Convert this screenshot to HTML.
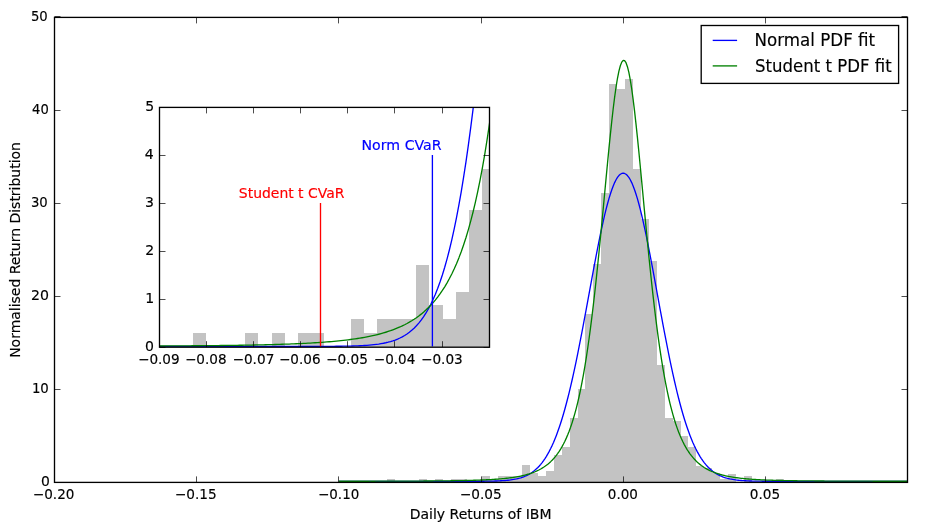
<!DOCTYPE html>
<html><head><meta charset="utf-8"><title>IBM returns</title>
<style>html,body{margin:0;padding:0;background:#fff}svg{display:block}text{white-space:pre}</style>
</head><body>
<svg width="932" height="532" viewBox="0 0 932 532" font-family="'DejaVu Sans', 'Liberation Sans', sans-serif">
<rect width="932" height="532" fill="#fff"/>
<defs>
<clipPath id="cm"><rect x="54.5" y="17.4" width="853.0" height="465.0"/></clipPath>
<clipPath id="ci"><rect x="159.5" y="107.4" width="330.0" height="239.79999999999998"/></clipPath>
</defs>
<g clip-path="url(#cm)">
<path d="M387.00 482.40V479.00H395.00V482.40ZM419.00 482.40V479.00H427.00V482.40ZM435.00 482.40V479.00H443.00V482.40ZM451.00 482.40V479.00H459.00V482.40ZM459.00 482.40V479.00H467.00V482.40ZM482.00 482.40V476.00H490.00V482.40ZM490.00 482.40V479.00H498.00V482.40ZM498.00 482.40V476.00H506.00V482.40ZM506.00 482.40V476.00H514.00V482.40ZM514.00 482.40V476.00H522.00V482.40ZM522.00 482.40V465.00H530.00V482.40ZM530.00 482.40V473.00H538.00V482.40ZM538.00 482.40V476.00H546.00V482.40ZM546.00 482.40V471.00H554.00V482.40ZM554.00 482.40V455.00H562.00V482.40ZM562.00 482.40V447.00H570.00V482.40ZM570.00 482.40V418.00H578.00V482.40ZM578.00 482.40V389.00H585.00V482.40ZM585.00 482.40V314.00H593.00V482.40ZM593.00 482.40V264.00H601.00V482.40ZM601.00 482.40V193.00H609.00V482.40ZM609.00 482.40V84.00H617.00V482.40ZM617.00 482.40V89.00H625.00V482.40ZM625.00 482.40V79.00H633.00V482.40ZM633.00 482.40V169.00H641.00V482.40ZM641.00 482.40V219.00H649.00V482.40ZM649.00 482.40V261.00H657.00V482.40ZM657.00 482.40V365.00H665.00V482.40ZM665.00 482.40V418.00H673.00V482.40ZM673.00 482.40V421.00H681.00V482.40ZM681.00 482.40V436.00H688.00V482.40ZM688.00 482.40V447.00H696.00V482.40ZM696.00 482.40V466.00H704.00V482.40ZM704.00 482.40V468.00H712.00V482.40ZM712.00 482.40V473.00H720.00V482.40ZM720.00 482.40V479.00H728.00V482.40ZM728.00 482.40V474.00H736.00V482.40ZM744.00 482.40V476.00H752.00V482.40ZM776.00 482.40V479.00H784.00V482.40Z" fill="#c3c3c3"/>
<path d="M338.84 481.30L340.26 481.30L341.68 481.30L343.10 481.30L344.52 481.30L345.95 481.30L347.37 481.30L348.79 481.30L350.21 481.30L351.63 481.30L353.05 481.30L354.48 481.30L355.90 481.30L357.32 481.30L358.74 481.30L360.16 481.30L361.58 481.30L363.01 481.30L364.43 481.30L365.85 481.30L367.27 481.30L368.69 481.30L370.11 481.30L371.54 481.30L372.96 481.30L374.38 481.30L375.80 481.30L377.22 481.30L378.64 481.30L380.07 481.30L381.49 481.30L382.91 481.30L384.33 481.30L385.75 481.30L387.17 481.30L388.60 481.30L390.02 481.30L391.44 481.30L392.86 481.30L394.28 481.30L395.70 481.30L397.13 481.30L398.55 481.30L399.97 481.30L401.39 481.30L402.81 481.30L404.23 481.30L405.66 481.30L407.08 481.30L408.50 481.30L409.92 481.30L411.34 481.30L412.76 481.30L414.19 481.30L415.61 481.30L417.03 481.30L418.45 481.30L419.87 481.30L421.29 481.30L422.72 481.30L424.14 481.30L425.56 481.30L426.98 481.30L428.40 481.30L429.82 481.30L431.25 481.30L432.67 481.30L434.09 481.30L435.51 481.30L436.93 481.30L438.35 481.30L439.78 481.30L441.20 481.30L442.62 481.30L444.04 481.30L445.46 481.30L446.88 481.30L448.31 481.30L449.73 481.30L451.15 481.30L452.57 481.30L453.99 481.30L455.41 481.30L456.84 481.30L458.26 481.30L459.68 481.30L461.10 481.30L462.52 481.29L463.94 481.29L465.37 481.29L466.79 481.29L468.21 481.29L469.63 481.29L471.05 481.28L472.47 481.28L473.90 481.28L475.32 481.27L476.74 481.27L478.16 481.26L479.58 481.25L481.00 481.24L482.43 481.23L483.85 481.22L485.27 481.21L486.69 481.19L488.11 481.17L489.53 481.15L490.96 481.12L492.38 481.09L493.80 481.06L495.22 481.01L496.64 480.97L498.06 480.91L499.49 480.85L500.91 480.78L502.33 480.69L503.75 480.60L505.17 480.49L506.59 480.36L508.02 480.22L509.44 480.06L510.86 479.88L512.28 479.67L513.70 479.44L515.12 479.18L516.55 478.89L517.97 478.55L519.39 478.18L520.81 477.77L522.23 477.31L523.65 476.79L525.08 476.21L526.50 475.58L527.92 474.87L529.34 474.09L530.76 473.23L532.18 472.28L533.61 471.23L535.03 470.09L536.45 468.84L537.87 467.47L539.29 465.97L540.71 464.34L542.14 462.58L543.56 460.66L544.98 458.59L546.40 456.35L547.82 453.94L549.24 451.35L550.67 448.57L552.09 445.59L553.51 442.41L554.93 439.02L556.35 435.41L557.77 431.58L559.20 427.52L560.62 423.23L562.04 418.71L563.46 413.95L564.88 408.96L566.30 403.73L567.73 398.26L569.15 392.56L570.57 386.64L571.99 380.49L573.41 374.12L574.83 367.56L576.26 360.79L577.68 353.85L579.10 346.74L580.52 339.47L581.94 332.07L583.36 324.56L584.79 316.95L586.21 309.26L587.63 301.53L589.05 293.77L590.47 286.02L591.89 278.30L593.32 270.63L594.74 263.05L596.16 255.59L597.58 248.28L599.00 241.14L600.42 234.21L601.85 227.52L603.27 221.09L604.69 214.97L606.11 209.16L607.53 203.71L608.95 198.64L610.38 193.98L611.80 189.74L613.22 185.94L614.64 182.61L616.06 179.77L617.48 177.42L618.91 175.58L620.33 174.26L621.75 173.46L623.17 173.20L624.59 173.46L626.01 174.26L627.43 175.58L628.86 177.42L630.28 179.77L631.70 182.61L633.12 185.94L634.54 189.74L635.96 193.98L637.39 198.64L638.81 203.71L640.23 209.16L641.65 214.97L643.07 221.09L644.49 227.52L645.92 234.21L647.34 241.14L648.76 248.28L650.18 255.59L651.60 263.05L653.02 270.63L654.45 278.30L655.87 286.02L657.29 293.77L658.71 301.53L660.13 309.26L661.55 316.95L662.98 324.56L664.40 332.07L665.82 339.47L667.24 346.74L668.66 353.85L670.08 360.79L671.51 367.56L672.93 374.12L674.35 380.49L675.77 386.64L677.19 392.56L678.61 398.26L680.04 403.73L681.46 408.96L682.88 413.95L684.30 418.71L685.72 423.23L687.14 427.52L688.57 431.58L689.99 435.41L691.41 439.02L692.83 442.41L694.25 445.59L695.67 448.57L697.10 451.35L698.52 453.94L699.94 456.35L701.36 458.59L702.78 460.66L704.20 462.58L705.63 464.34L707.05 465.97L708.47 467.47L709.89 468.84L711.31 470.09L712.73 471.23L714.16 472.28L715.58 473.23L717.00 474.09L718.42 474.87L719.84 475.58L721.26 476.21L722.69 476.79L724.11 477.31L725.53 477.77L726.95 478.18L728.37 478.55L729.79 478.89L731.22 479.18L732.64 479.44L734.06 479.67L735.48 479.88L736.90 480.06L738.32 480.22L739.75 480.36L741.17 480.49L742.59 480.60L744.01 480.69L745.43 480.78L746.85 480.85L748.28 480.91L749.70 480.97L751.12 481.01L752.54 481.06L753.96 481.09L755.38 481.12L756.81 481.15L758.23 481.17L759.65 481.19L761.07 481.21L762.49 481.22L763.91 481.23L765.34 481.24L766.76 481.25L768.18 481.26L769.60 481.27L771.02 481.27L772.44 481.28L773.87 481.28L775.29 481.28L776.71 481.29L778.13 481.29L779.55 481.29L780.97 481.29L782.40 481.29L783.82 481.29L785.24 481.30L786.66 481.30L788.08 481.30L789.50 481.30L790.93 481.30L792.35 481.30L793.77 481.30L795.19 481.30L796.61 481.30L798.03 481.30L799.46 481.30L800.88 481.30L802.30 481.30L803.72 481.30L805.14 481.30L806.56 481.30L807.99 481.30L809.41 481.30L810.83 481.30L812.25 481.30L813.67 481.30L815.09 481.30L816.52 481.30L817.94 481.30L819.36 481.30L820.78 481.30L822.20 481.30L823.62 481.30L825.05 481.30L826.47 481.30L827.89 481.30L829.31 481.30L830.73 481.30L832.15 481.30L833.58 481.30L835.00 481.30L836.42 481.30L837.84 481.30L839.26 481.30L840.68 481.30L842.11 481.30L843.53 481.30L844.95 481.30L846.37 481.30L847.79 481.30L849.21 481.30L850.64 481.30L852.06 481.30L853.48 481.30L854.90 481.30L856.32 481.30L857.74 481.30L859.17 481.30L860.59 481.30L862.01 481.30L863.43 481.30L864.85 481.30L866.27 481.30L867.70 481.30L869.12 481.30L870.54 481.30L871.96 481.30L873.38 481.30L874.80 481.30L876.23 481.30L877.65 481.30L879.07 481.30L880.49 481.30L881.91 481.30L883.33 481.30L884.76 481.30L886.18 481.30L887.60 481.30L889.02 481.30L890.44 481.30L891.86 481.30L893.29 481.30L894.71 481.30L896.13 481.30L897.55 481.30L898.97 481.30L900.39 481.30L901.82 481.30L903.24 481.30L904.66 481.30L906.08 481.30L907.50 481.30" fill="none" stroke="#0000ff" stroke-width="1.33" stroke-linejoin="round"/>
<path d="M338.84 481.25L340.26 481.25L341.68 481.25L343.10 481.25L344.52 481.25L345.95 481.25L347.37 481.24L348.79 481.24L350.21 481.24L351.63 481.24L353.05 481.24L354.48 481.24L355.90 481.23L357.32 481.23L358.74 481.23L360.16 481.23L361.58 481.23L363.01 481.23L364.43 481.22L365.85 481.22L367.27 481.22L368.69 481.22L370.11 481.21L371.54 481.21L372.96 481.21L374.38 481.21L375.80 481.20L377.22 481.20L378.64 481.20L380.07 481.20L381.49 481.19L382.91 481.19L384.33 481.19L385.75 481.18L387.17 481.18L388.60 481.18L390.02 481.17L391.44 481.17L392.86 481.17L394.28 481.16L395.70 481.16L397.13 481.15L398.55 481.15L399.97 481.14L401.39 481.14L402.81 481.13L404.23 481.13L405.66 481.12L407.08 481.12L408.50 481.11L409.92 481.11L411.34 481.10L412.76 481.09L414.19 481.09L415.61 481.08L417.03 481.07L418.45 481.06L419.87 481.06L421.29 481.05L422.72 481.04L424.14 481.03L425.56 481.02L426.98 481.01L428.40 481.00L429.82 480.99L431.25 480.98L432.67 480.97L434.09 480.96L435.51 480.95L436.93 480.93L438.35 480.92L439.78 480.90L441.20 480.89L442.62 480.87L444.04 480.86L445.46 480.84L446.88 480.82L448.31 480.81L449.73 480.79L451.15 480.77L452.57 480.75L453.99 480.72L455.41 480.70L456.84 480.68L458.26 480.65L459.68 480.63L461.10 480.60L462.52 480.57L463.94 480.54L465.37 480.51L466.79 480.47L468.21 480.44L469.63 480.40L471.05 480.36L472.47 480.32L473.90 480.28L475.32 480.23L476.74 480.19L478.16 480.14L479.58 480.08L481.00 480.03L482.43 479.97L483.85 479.91L485.27 479.84L486.69 479.77L488.11 479.70L489.53 479.62L490.96 479.54L492.38 479.46L493.80 479.36L495.22 479.27L496.64 479.17L498.06 479.06L499.49 478.94L500.91 478.82L502.33 478.69L503.75 478.56L505.17 478.41L506.59 478.26L508.02 478.09L509.44 477.92L510.86 477.73L512.28 477.54L513.70 477.33L515.12 477.10L516.55 476.86L517.97 476.61L519.39 476.34L520.81 476.05L522.23 475.74L523.65 475.41L525.08 475.05L526.50 474.67L527.92 474.26L529.34 473.83L530.76 473.36L532.18 472.86L533.61 472.33L535.03 471.75L536.45 471.13L537.87 470.47L539.29 469.75L540.71 468.98L542.14 468.15L543.56 467.26L544.98 466.30L546.40 465.27L547.82 464.15L549.24 462.95L550.67 461.64L552.09 460.24L553.51 458.72L554.93 457.09L556.35 455.31L557.77 453.40L559.20 451.33L560.62 449.09L562.04 446.66L563.46 444.04L564.88 441.20L566.30 438.13L567.73 434.80L569.15 431.21L570.57 427.32L571.99 423.11L573.41 418.57L574.83 413.66L576.26 408.36L577.68 402.64L579.10 396.48L580.52 389.85L581.94 382.72L583.36 375.07L584.79 366.87L586.21 358.11L587.63 348.75L589.05 338.78L590.47 328.21L591.89 317.01L593.32 305.20L594.74 292.79L596.16 279.81L597.58 266.29L599.00 252.28L600.42 237.86L601.85 223.10L603.27 208.11L604.69 193.00L606.11 177.91L607.53 162.99L608.95 148.41L610.38 134.35L611.80 120.98L613.22 108.50L614.64 97.11L616.06 86.97L617.48 78.26L618.91 71.14L620.33 65.73L621.75 62.13L623.17 60.41L624.59 60.60L626.01 62.70L627.43 66.67L628.86 72.43L630.28 79.88L631.70 88.89L633.12 99.29L634.54 110.92L635.96 123.59L637.39 137.11L638.81 151.29L640.23 165.96L641.65 180.92L643.07 196.03L644.49 211.12L645.92 226.08L647.34 240.78L648.76 255.12L650.18 269.03L651.60 282.45L653.02 295.32L654.45 307.61L655.87 319.30L657.29 330.37L658.71 340.83L660.13 350.67L661.55 359.91L662.98 368.56L664.40 376.65L665.82 384.19L667.24 391.22L668.66 397.75L670.08 403.82L671.51 409.45L672.93 414.67L674.35 419.51L675.77 423.98L677.19 428.12L678.61 431.95L680.04 435.49L681.46 438.76L682.88 441.79L684.30 444.58L685.72 447.16L687.14 449.55L688.57 451.75L689.99 453.79L691.41 455.68L692.83 457.42L694.25 459.04L695.67 460.53L697.10 461.91L698.52 463.19L699.94 464.38L701.36 465.48L702.78 466.50L704.20 467.45L705.63 468.32L707.05 469.14L708.47 469.90L709.89 470.60L711.31 471.26L712.73 471.87L714.16 472.44L715.58 472.97L717.00 473.46L718.42 473.92L719.84 474.35L721.26 474.75L722.69 475.12L724.11 475.47L725.53 475.80L726.95 476.11L728.37 476.39L729.79 476.66L731.22 476.91L732.64 477.15L734.06 477.37L735.48 477.58L736.90 477.77L738.32 477.96L739.75 478.13L741.17 478.29L742.59 478.44L744.01 478.58L745.43 478.72L746.85 478.85L748.28 478.97L749.70 479.08L751.12 479.19L752.54 479.29L753.96 479.38L755.38 479.47L756.81 479.56L758.23 479.64L759.65 479.71L761.07 479.79L762.49 479.85L763.91 479.92L765.34 479.98L766.76 480.04L768.18 480.09L769.60 480.15L771.02 480.20L772.44 480.24L773.87 480.29L775.29 480.33L776.71 480.37L778.13 480.41L779.55 480.45L780.97 480.48L782.40 480.51L783.82 480.55L785.24 480.58L786.66 480.60L788.08 480.63L789.50 480.66L790.93 480.68L792.35 480.71L793.77 480.73L795.19 480.75L796.61 480.77L798.03 480.79L799.46 480.81L800.88 480.83L802.30 480.85L803.72 480.86L805.14 480.88L806.56 480.89L807.99 480.91L809.41 480.92L810.83 480.93L812.25 480.95L813.67 480.96L815.09 480.97L816.52 480.98L817.94 480.99L819.36 481.00L820.78 481.01L822.20 481.02L823.62 481.03L825.05 481.04L826.47 481.05L827.89 481.06L829.31 481.07L830.73 481.07L832.15 481.08L833.58 481.09L835.00 481.09L836.42 481.10L837.84 481.11L839.26 481.11L840.68 481.12L842.11 481.12L843.53 481.13L844.95 481.14L846.37 481.14L847.79 481.14L849.21 481.15L850.64 481.15L852.06 481.16L853.48 481.16L854.90 481.17L856.32 481.17L857.74 481.17L859.17 481.18L860.59 481.18L862.01 481.18L863.43 481.19L864.85 481.19L866.27 481.19L867.70 481.20L869.12 481.20L870.54 481.20L871.96 481.21L873.38 481.21L874.80 481.21L876.23 481.21L877.65 481.21L879.07 481.22L880.49 481.22L881.91 481.22L883.33 481.22L884.76 481.23L886.18 481.23L887.60 481.23L889.02 481.23L890.44 481.23L891.86 481.23L893.29 481.24L894.71 481.24L896.13 481.24L897.55 481.24L898.97 481.24L900.39 481.24L901.82 481.25L903.24 481.25L904.66 481.25L906.08 481.25L907.50 481.25" fill="none" stroke="#008000" stroke-width="1.33" stroke-linejoin="round"/>
</g>
<path d="M196.50 482.4v-6.0M196.50 17.4v6.0M338.50 482.4v-6.0M338.50 17.4v6.0M481.50 482.4v-6.0M481.50 17.4v6.0M623.50 482.4v-6.0M623.50 17.4v6.0M765.50 482.4v-6.0M765.50 17.4v6.0M54.5 482.50h6.0M907.5 482.50h-6.0M54.5 389.50h6.0M907.5 389.50h-6.0M54.5 296.50h6.0M907.5 296.50h-6.0M54.5 203.50h6.0M907.5 203.50h-6.0M54.5 110.50h6.0M907.5 110.50h-6.0M54.5 16.50h6.0M907.5 16.50h-6.0" stroke="#000" stroke-width="0.7" fill="none"/>
<rect x="54.5" y="17.4" width="853.0" height="465.0" fill="none" stroke="#000" stroke-width="1.33"/>
<text transform="translate(30.88 21.05) scale(0.9925 1)" style="font-size:13.33px" fill="#000" stroke="#000" stroke-width="0.15">50</text>
<text transform="translate(32.08 114.00) scale(0.9862 1)" style="font-size:13.33px" fill="#000" stroke="#000" stroke-width="0.15">40</text>
<text transform="translate(30.88 207.05) scale(0.9925 1)" style="font-size:13.33px" fill="#000" stroke="#000" stroke-width="0.15">30</text>
<text transform="translate(30.89 300.05) scale(1.0608 1)" style="font-size:13.33px" fill="#000" stroke="#000" stroke-width="0.15">20</text>
<text transform="translate(31.88 393.05) scale(0.9991 1)" style="font-size:13.33px" fill="#000" stroke="#000" stroke-width="0.15">10</text>
<text transform="translate(41.07 485.70) scale(1.0473 1)" style="font-size:13.33px" fill="#000" stroke="#000" stroke-width="0.15">0</text>
<text transform="translate(32.85 498.95) scale(1.0171 1)" style="font-size:13.33px" fill="#000" stroke="#000" stroke-width="0.15">−0.20</text>
<text transform="translate(174.74 498.95) scale(1.0268 1)" style="font-size:13.33px" fill="#000" stroke="#000" stroke-width="0.15">−0.15</text>
<text transform="translate(318.06 498.95) scale(1.0093 1)" style="font-size:13.33px" fill="#000" stroke="#000" stroke-width="0.15">−0.10</text>
<text transform="translate(459.84 498.95) scale(1.0268 1)" style="font-size:13.33px" fill="#000" stroke="#000" stroke-width="0.15">−0.05</text>
<text transform="translate(607.80 498.95) scale(1.0152 1)" style="font-size:13.33px" fill="#000" stroke="#000" stroke-width="0.15">0.00</text>
<text transform="translate(749.79 498.95) scale(1.0231 1)" style="font-size:13.33px" fill="#000" stroke="#000" stroke-width="0.15">0.05</text>
<text transform="translate(409.74 518.90) scale(1.0512 1)" style="font-size:13.33px" fill="#000" stroke="#000" stroke-width="0.15">Daily Returns of IBM</text>
<text transform="translate(20.00 357.85) rotate(-90) scale(1.0488 1)" style="font-size:13.33px" fill="#000" stroke="#000" stroke-width="0.15">Normalised Return Distribution</text>
<rect x="701.2" y="25.5" width="197.39999999999998" height="57.900000000000006" fill="#fff" stroke="#000" stroke-width="1.33"/>
<path d="M712.7 40.4H737.1" stroke="#0000ff" stroke-width="1.33"/>
<path d="M712.7 65.9H737.1" stroke="#008000" stroke-width="1.33"/>
<text transform="translate(754.59 45.95) scale(0.9488 1)" style="font-size:17.6px" fill="#000" stroke="#000" stroke-width="0.15">Normal PDF fit</text>
<text transform="translate(755.10 71.90) scale(0.9419 1)" style="font-size:17.6px" fill="#000" stroke="#000" stroke-width="0.15">Student t PDF fit</text>
<rect x="159.5" y="107.4" width="330.0" height="239.79999999999998" fill="#fff"/>
<g clip-path="url(#ci)">
<path d="M193.00 347.20V333.00H206.00V347.20ZM245.00 347.20V333.00H258.00V347.20ZM272.00 347.20V333.00H285.00V347.20ZM298.00 347.20V333.00H311.00V347.20ZM311.00 347.20V333.00H324.00V347.20ZM351.00 347.20V319.00H364.00V347.20ZM364.00 347.20V333.00H377.00V347.20ZM377.00 347.20V319.00H390.00V347.20ZM390.00 347.20V319.00H403.00V347.20ZM403.00 347.20V319.00H416.00V347.20ZM416.00 347.20V265.00H429.00V347.20ZM429.00 347.20V305.00H443.00V347.20ZM443.00 347.20V319.00H456.00V347.20ZM456.00 347.20V292.00H469.00V347.20ZM469.00 347.20V210.00H482.00V347.20ZM482.00 347.20V169.00H495.00V347.20ZM495.00 347.20V19.00H508.00V347.20ZM508.00 347.20V-130.00H522.00V347.20ZM522.00 347.20V-516.00H535.00V347.20ZM535.00 347.20V-776.00H548.00V347.20ZM548.00 347.20V-1141.00H561.00V347.20ZM561.00 347.20V-1704.00H574.00V347.20ZM574.00 347.20V-1678.00H587.00V347.20ZM587.00 347.20V-1729.00H600.00V347.20ZM600.00 347.20V-1264.00H614.00V347.20ZM614.00 347.20V-1007.00H627.00V347.20ZM627.00 347.20V-792.00H640.00V347.20ZM640.00 347.20V-255.00H653.00V347.20ZM653.00 347.20V19.00H666.00V347.20ZM666.00 347.20V35.00H679.00V347.20ZM679.00 347.20V113.00H693.00V347.20ZM693.00 347.20V170.00H706.00V347.20ZM706.00 347.20V266.00H719.00V347.20ZM719.00 347.20V279.00H732.00V347.20ZM732.00 347.20V305.00H745.00V347.20ZM745.00 347.20V333.00H758.00V347.20ZM758.00 347.20V308.00H771.00V347.20ZM785.00 347.20V319.00H798.00V347.20ZM837.00 347.20V333.00H850.00V347.20Z" fill="#c3c3c3"/>
<path d="M112.36 346.40L114.71 346.40L117.07 346.40L119.43 346.40L121.79 346.40L124.14 346.40L126.50 346.40L128.86 346.40L131.21 346.40L133.57 346.40L135.93 346.40L138.29 346.40L140.64 346.40L143.00 346.40L145.36 346.40L147.71 346.40L150.07 346.40L152.43 346.40L154.79 346.40L157.14 346.40L159.50 346.40L161.86 346.40L164.21 346.40L166.57 346.40L168.93 346.40L171.29 346.40L173.64 346.40L176.00 346.40L178.36 346.40L180.71 346.40L183.07 346.40L185.43 346.40L187.79 346.40L190.14 346.40L192.50 346.40L194.86 346.40L197.21 346.40L199.57 346.40L201.93 346.40L204.29 346.40L206.64 346.40L209.00 346.40L211.36 346.40L213.71 346.40L216.07 346.40L218.43 346.40L220.79 346.40L223.14 346.40L225.50 346.40L227.86 346.40L230.21 346.40L232.57 346.40L234.93 346.40L237.29 346.40L239.64 346.40L242.00 346.40L244.36 346.40L246.71 346.40L249.07 346.40L251.43 346.40L253.79 346.40L256.14 346.40L258.50 346.40L260.86 346.40L263.21 346.40L265.57 346.40L267.93 346.40L270.29 346.40L272.64 346.40L275.00 346.40L277.36 346.40L279.71 346.40L282.07 346.40L284.43 346.40L286.79 346.40L289.14 346.40L291.50 346.40L293.86 346.40L296.21 346.40L298.57 346.39L300.93 346.39L303.29 346.39L305.64 346.39L308.00 346.39L310.36 346.39L312.71 346.38L315.07 346.38L317.43 346.37L319.79 346.37L322.14 346.36L324.50 346.35L326.86 346.34L329.21 346.33L331.57 346.32L333.93 346.30L336.29 346.28L338.64 346.26L341.00 346.23L343.36 346.20L345.71 346.16L348.07 346.11L350.43 346.06L352.79 346.00L355.14 345.92L357.50 345.84L359.86 345.74L362.21 345.62L364.57 345.48L366.93 345.32L369.29 345.14L371.64 344.92L374.00 344.68L376.36 344.39L378.71 344.07L381.07 343.69L383.43 343.26L385.79 342.77L388.14 342.21L390.50 341.57L392.86 340.84L395.21 340.01L397.57 339.07L399.93 338.01L402.29 336.81L404.64 335.46L407.00 333.94L409.36 332.23L411.72 330.31L414.07 328.17L416.43 325.78L418.79 323.12L421.14 320.15L423.50 316.86L425.86 313.22L428.22 309.19L430.57 304.74L432.93 299.84L435.29 294.45L437.64 288.54L440.00 282.07L442.36 274.99L444.72 267.28L447.07 258.88L449.43 249.76L451.79 239.88L454.14 229.18L456.50 217.63L458.86 205.19L461.22 191.82L463.57 177.46L465.93 162.10L468.29 145.68L470.64 128.17L473.00 109.55L475.36 89.78L477.72 68.84L480.07 46.71L482.43 23.37L484.79 -1.19L487.14 -26.97L489.50 -53.97L491.86 -82.19L494.22 -111.60L496.57 -142.19L498.93 -173.92L501.29 -206.76L503.64 -240.66L506.00 -275.57L508.36 -311.41L510.72 -348.12L513.07 -385.62L515.43 -423.81L517.79 -462.60L520.14 -501.88L522.50 -541.53L524.86 -581.44L527.22 -621.47L529.57 -661.49L531.93 -701.35L534.29 -740.92L536.64 -780.03L539.00 -818.55L541.36 -856.30L543.72 -893.14L546.07 -928.91L548.43 -963.45L550.79 -996.60L553.14 -1028.23L555.50 -1058.17L557.86 -1086.30L560.22 -1112.47L562.57 -1136.56L564.93 -1158.45L567.29 -1178.03L569.64 -1195.21L572.00 -1209.90L574.36 -1222.02L576.72 -1231.51L579.07 -1238.33L581.43 -1242.43L583.79 -1243.80L586.14 -1242.43L588.50 -1238.33L590.86 -1231.51L593.22 -1222.02L595.57 -1209.90L597.93 -1195.21L600.29 -1178.03L602.64 -1158.45L605.00 -1136.56L607.36 -1112.47L609.72 -1086.30L612.07 -1058.17L614.43 -1028.23L616.79 -996.60L619.14 -963.45L621.50 -928.91L623.86 -893.14L626.22 -856.30L628.57 -818.55L630.93 -780.03L633.29 -740.92L635.64 -701.35L638.00 -661.49L640.36 -621.47L642.72 -581.44L645.07 -541.53L647.43 -501.88L649.79 -462.60L652.14 -423.81L654.50 -385.62L656.86 -348.12L659.22 -311.41L661.57 -275.57L663.93 -240.66L666.29 -206.76L668.64 -173.92L671.00 -142.19L673.36 -111.60L675.72 -82.19L678.07 -53.97L680.43 -26.97L682.79 -1.19L685.14 23.37L687.50 46.71L689.86 68.84L692.22 89.78L694.57 109.55L696.93 128.17L699.29 145.68L701.64 162.10L704.00 177.46L706.36 191.82L708.72 205.19L711.07 217.63L713.43 229.18L715.79 239.88L718.14 249.76L720.50 258.88L722.86 267.28L725.22 274.99L727.57 282.07L729.93 288.54L732.29 294.45L734.64 299.84L737.00 304.74L739.36 309.19L741.72 313.22L744.07 316.86L746.43 320.15L748.79 323.12L751.14 325.78L753.50 328.17L755.86 330.31L758.22 332.23L760.57 333.94L762.93 335.46L765.29 336.81L767.64 338.01L770.00 339.07L772.36 340.01L774.72 340.84L777.07 341.57L779.43 342.21L781.79 342.77L784.14 343.26L786.50 343.69L788.86 344.07L791.22 344.39L793.57 344.68L795.93 344.92L798.29 345.14L800.64 345.32L803.00 345.48L805.36 345.62L807.72 345.74L810.07 345.84L812.43 345.92L814.79 346.00L817.14 346.06L819.50 346.11L821.86 346.16L824.22 346.20L826.57 346.23L828.93 346.26L831.29 346.28L833.64 346.30L836.00 346.32L838.36 346.33L840.72 346.34L843.07 346.35L845.43 346.36L847.79 346.37L850.14 346.37L852.50 346.38L854.86 346.38L857.22 346.39L859.57 346.39L861.93 346.39L864.29 346.39L866.64 346.39L869.00 346.39L871.36 346.40L873.72 346.40L876.07 346.40L878.43 346.40L880.79 346.40L883.15 346.40L885.50 346.40L887.86 346.40L890.22 346.40L892.57 346.40L894.93 346.40L897.29 346.40L899.65 346.40L902.00 346.40L904.36 346.40L906.72 346.40L909.07 346.40L911.43 346.40L913.79 346.40L916.15 346.40L918.50 346.40L920.86 346.40L923.22 346.40L925.57 346.40L927.93 346.40L930.29 346.40L932.65 346.40L935.00 346.40L937.36 346.40L939.72 346.40L942.07 346.40L944.43 346.40L946.79 346.40L949.15 346.40L951.50 346.40L953.86 346.40L956.22 346.40L958.57 346.40L960.93 346.40L963.29 346.40L965.65 346.40L968.00 346.40L970.36 346.40L972.72 346.40L975.07 346.40L977.43 346.40L979.79 346.40L982.15 346.40L984.50 346.40L986.86 346.40L989.22 346.40L991.57 346.40L993.93 346.40L996.29 346.40L998.65 346.40L1001.00 346.40L1003.36 346.40L1005.72 346.40L1008.07 346.40L1010.43 346.40L1012.79 346.40L1015.15 346.40L1017.50 346.40L1019.86 346.40L1022.22 346.40L1024.57 346.40L1026.93 346.40L1029.29 346.40L1031.65 346.40L1034.00 346.40L1036.36 346.40L1038.72 346.40L1041.07 346.40L1043.43 346.40L1045.79 346.40L1048.15 346.40L1050.50 346.40L1052.86 346.40L1055.22 346.40" fill="none" stroke="#0000ff" stroke-width="1.33" stroke-linejoin="round"/>
<path d="M112.36 346.15L114.71 346.14L117.07 346.14L119.43 346.13L121.79 346.12L124.14 346.12L126.50 346.11L128.86 346.10L131.21 346.09L133.57 346.09L135.93 346.08L138.29 346.07L140.64 346.06L143.00 346.05L145.36 346.04L147.71 346.03L150.07 346.02L152.43 346.01L154.79 346.00L157.14 345.99L159.50 345.98L161.86 345.97L164.21 345.96L166.57 345.95L168.93 345.93L171.29 345.92L173.64 345.91L176.00 345.89L178.36 345.88L180.71 345.86L183.07 345.85L185.43 345.83L187.79 345.82L190.14 345.80L192.50 345.78L194.86 345.76L197.21 345.75L199.57 345.73L201.93 345.71L204.29 345.69L206.64 345.66L209.00 345.64L211.36 345.62L213.71 345.59L216.07 345.57L218.43 345.54L220.79 345.52L223.14 345.49L225.50 345.46L227.86 345.43L230.21 345.40L232.57 345.37L234.93 345.33L237.29 345.30L239.64 345.26L242.00 345.22L244.36 345.18L246.71 345.14L249.07 345.10L251.43 345.06L253.79 345.01L256.14 344.96L258.50 344.91L260.86 344.86L263.21 344.81L265.57 344.75L267.93 344.69L270.29 344.63L272.64 344.57L275.00 344.50L277.36 344.43L279.71 344.36L282.07 344.28L284.43 344.21L286.79 344.12L289.14 344.04L291.50 343.95L293.86 343.85L296.21 343.75L298.57 343.65L300.93 343.54L303.29 343.43L305.64 343.31L308.00 343.19L310.36 343.06L312.71 342.92L315.07 342.78L317.43 342.63L319.79 342.47L322.14 342.31L324.50 342.14L326.86 341.95L329.21 341.76L331.57 341.56L333.93 341.35L336.29 341.13L338.64 340.90L341.00 340.65L343.36 340.39L345.71 340.12L348.07 339.83L350.43 339.53L352.79 339.21L355.14 338.87L357.50 338.52L359.86 338.14L362.21 337.74L364.57 337.32L366.93 336.88L369.29 336.41L371.64 335.91L374.00 335.39L376.36 334.83L378.71 334.24L381.07 333.61L383.43 332.95L385.79 332.24L388.14 331.49L390.50 330.70L392.86 329.85L395.21 328.95L397.57 327.99L399.93 326.98L402.29 325.89L404.64 324.74L407.00 323.50L409.36 322.19L411.72 320.78L414.07 319.29L416.43 317.69L418.79 315.97L421.14 314.14L423.50 312.19L425.86 310.09L428.22 307.84L430.57 305.44L432.93 302.85L435.29 300.08L437.64 297.11L440.00 293.92L442.36 290.48L444.72 286.79L447.07 282.82L449.43 278.55L451.79 273.95L454.14 268.99L456.50 263.65L458.86 257.88L461.22 251.67L463.57 244.95L465.93 237.71L468.29 229.88L470.64 221.42L473.00 212.28L475.36 202.39L477.72 191.70L480.07 180.14L482.43 167.62L484.79 154.08L487.14 139.43L489.50 123.58L491.86 106.42L494.22 87.86L496.57 67.79L498.93 46.08L501.29 22.63L503.64 -2.71L506.00 -30.07L508.36 -59.57L510.72 -91.36L513.07 -125.59L515.43 -162.38L517.79 -201.87L520.14 -244.18L522.50 -289.44L524.86 -337.75L527.22 -389.17L529.57 -443.76L531.93 -501.55L534.29 -562.50L536.64 -626.54L539.00 -693.55L541.36 -763.33L543.72 -835.62L546.07 -910.06L548.43 -986.23L550.79 -1063.61L553.14 -1141.59L555.50 -1219.47L557.86 -1296.46L560.22 -1371.72L562.57 -1444.33L564.93 -1513.32L567.29 -1577.71L569.64 -1636.54L572.00 -1688.86L574.36 -1733.79L576.72 -1770.55L579.07 -1798.48L581.43 -1817.06L583.79 -1825.93L586.14 -1824.95L588.50 -1814.11L590.86 -1793.63L593.22 -1763.89L595.57 -1725.44L597.93 -1678.96L600.29 -1625.27L602.64 -1565.25L605.00 -1499.86L607.36 -1430.06L609.72 -1356.85L612.07 -1281.18L614.43 -1203.94L616.79 -1125.98L619.14 -1048.07L621.50 -970.88L623.86 -895.02L626.22 -820.97L628.57 -749.17L630.93 -679.92L633.29 -613.49L635.64 -550.06L638.00 -489.74L640.36 -432.59L642.72 -378.63L645.07 -327.84L647.43 -280.15L649.79 -235.49L652.14 -193.74L654.50 -154.81L656.86 -118.54L659.22 -84.82L661.57 -53.49L663.93 -24.43L666.29 2.51L668.64 27.46L671.00 50.56L673.36 71.93L675.72 91.69L678.07 109.96L680.43 126.85L682.79 142.45L685.14 156.88L687.50 170.20L689.86 182.52L692.22 193.91L694.57 204.43L696.93 214.16L699.29 223.17L701.64 231.49L704.00 239.20L706.36 246.34L708.72 252.95L711.07 259.07L713.43 264.75L715.79 270.01L718.14 274.90L720.50 279.43L722.86 283.64L725.22 287.55L727.57 291.19L729.93 294.57L732.29 297.72L734.64 300.65L737.00 303.39L739.36 305.93L741.72 308.31L744.07 310.52L746.43 312.59L748.79 314.52L751.14 316.33L753.50 318.01L755.86 319.59L758.22 321.07L760.57 322.46L762.93 323.76L765.29 324.97L767.64 326.11L770.00 327.19L772.36 328.19L774.72 329.14L777.07 330.02L779.43 330.86L781.79 331.65L784.14 332.39L786.50 333.08L788.86 333.74L791.22 334.36L793.57 334.94L795.93 335.49L798.29 336.02L800.64 336.51L803.00 336.97L805.36 337.41L807.72 337.82L810.07 338.22L812.43 338.59L814.79 338.94L817.14 339.27L819.50 339.59L821.86 339.89L824.22 340.18L826.57 340.44L828.93 340.70L831.29 340.94L833.64 341.18L836.00 341.39L838.36 341.60L840.72 341.80L843.07 341.99L845.43 342.17L847.79 342.34L850.14 342.51L852.50 342.66L854.86 342.81L857.22 342.95L859.57 343.08L861.93 343.21L864.29 343.34L866.64 343.45L869.00 343.56L871.36 343.67L873.72 343.77L876.07 343.87L878.43 343.96L880.79 344.05L883.15 344.14L885.50 344.22L887.86 344.30L890.22 344.37L892.57 344.45L894.93 344.51L897.29 344.58L899.65 344.64L902.00 344.70L904.36 344.76L906.72 344.82L909.07 344.87L911.43 344.92L913.79 344.97L916.15 345.02L918.50 345.07L920.86 345.11L923.22 345.15L925.57 345.19L927.93 345.23L930.29 345.27L932.65 345.30L935.00 345.34L937.36 345.37L939.72 345.40L942.07 345.44L944.43 345.47L946.79 345.49L949.15 345.52L951.50 345.55L953.86 345.57L956.22 345.60L958.57 345.62L960.93 345.65L963.29 345.67L965.65 345.69L968.00 345.71L970.36 345.73L972.72 345.75L975.07 345.77L977.43 345.79L979.79 345.80L982.15 345.82L984.50 345.84L986.86 345.85L989.22 345.87L991.57 345.88L993.93 345.90L996.29 345.91L998.65 345.92L1001.00 345.94L1003.36 345.95L1005.72 345.96L1008.07 345.97L1010.43 345.98L1012.79 346.00L1015.15 346.01L1017.50 346.02L1019.86 346.03L1022.22 346.04L1024.57 346.05L1026.93 346.05L1029.29 346.06L1031.65 346.07L1034.00 346.08L1036.36 346.09L1038.72 346.10L1041.07 346.10L1043.43 346.11L1045.79 346.12L1048.15 346.12L1050.50 346.13L1052.86 346.14L1055.22 346.14" fill="none" stroke="#008000" stroke-width="1.33" stroke-linejoin="round"/>
<path d="M320.5 346.40V203.0" stroke="#ff0000" stroke-width="1.33"/>
<path d="M432.4 346.40V155.0" stroke="#0000ff" stroke-width="1.33"/>
</g>
<path d="M206.50 347.2v-6.0M206.50 107.4v6.0M253.50 347.2v-6.0M253.50 107.4v6.0M300.50 347.2v-6.0M300.50 107.4v6.0M347.50 347.2v-6.0M347.50 107.4v6.0M394.50 347.2v-6.0M394.50 107.4v6.0M442.50 347.2v-6.0M442.50 107.4v6.0M159.5 347.50h6.0M489.5 347.50h-6.0M159.5 299.50h6.0M489.5 299.50h-6.0M159.5 251.50h6.0M489.5 251.50h-6.0M159.5 203.50h6.0M489.5 203.50h-6.0M159.5 155.50h6.0M489.5 155.50h-6.0M159.5 107.50h6.0M489.5 107.50h-6.0" stroke="#000" stroke-width="0.7" fill="none"/>
<rect x="159.5" y="107.4" width="330.0" height="239.79999999999998" fill="none" stroke="#000" stroke-width="1.33"/>
<text transform="translate(138.00 363.75) scale(1.0197 1)" style="font-size:13.33px" fill="#000" stroke="#000" stroke-width="0.15">−0.09</text>
<text transform="translate(184.95 363.75) scale(1.0197 1)" style="font-size:13.33px" fill="#000" stroke="#000" stroke-width="0.15">−0.08</text>
<text transform="translate(232.49 363.75) scale(1.0250 1)" style="font-size:13.33px" fill="#000" stroke="#000" stroke-width="0.15">−0.07</text>
<text transform="translate(279.00 363.75) scale(1.0179 1)" style="font-size:13.33px" fill="#000" stroke="#000" stroke-width="0.15">−0.06</text>
<text transform="translate(325.94 363.75) scale(1.0268 1)" style="font-size:13.33px" fill="#000" stroke="#000" stroke-width="0.15">−0.05</text>
<text transform="translate(373.86 363.75) scale(1.0144 1)" style="font-size:13.33px" fill="#000" stroke="#000" stroke-width="0.15">−0.04</text>
<text transform="translate(420.99 363.75) scale(1.0232 1)" style="font-size:13.33px" fill="#000" stroke="#000" stroke-width="0.15">−0.03</text>
<text transform="translate(144.89 350.80) scale(1.0577 1)" style="font-size:13.33px" fill="#000" stroke="#000" stroke-width="0.15">0</text>
<text transform="translate(145.26 302.80) scale(1.0544 1)" style="font-size:13.33px" fill="#000" stroke="#000" stroke-width="0.15">1</text>
<text transform="translate(145.32 254.80) scale(1.0561 1)" style="font-size:13.33px" fill="#000" stroke="#000" stroke-width="0.15">2</text>
<text transform="translate(145.04 206.80) scale(1.0568 1)" style="font-size:13.33px" fill="#000" stroke="#000" stroke-width="0.15">3</text>
<text transform="translate(144.67 158.80) scale(1.0592 1)" style="font-size:13.33px" fill="#000" stroke="#000" stroke-width="0.15">4</text>
<text transform="translate(145.18 110.80) scale(1.0563 1)" style="font-size:13.33px" fill="#000" stroke="#000" stroke-width="0.15">5</text>
<text transform="translate(361.53 149.80) scale(1.0623 1)" style="font-size:13.33px" fill="#0000ff" stroke="#0000ff" stroke-width="0.15">Norm CVaR</text>
<text transform="translate(238.82 197.80) scale(1.0474 1)" style="font-size:13.33px" fill="#ff0000" stroke="#ff0000" stroke-width="0.15">Student t CVaR</text>
</svg>
</body></html>
